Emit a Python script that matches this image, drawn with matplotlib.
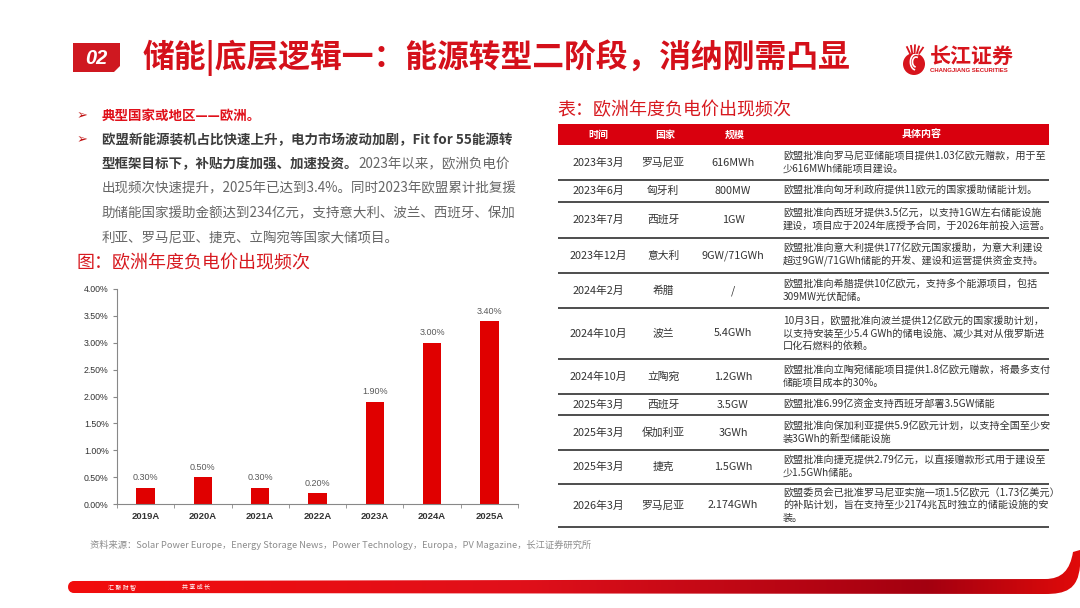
import matplotlib
matplotlib.use('Agg')
import matplotlib.pyplot as plt
import numpy as np
from matplotlib.patches import Rectangle, Polygon, PathPatch, Ellipse
from matplotlib.path import Path
from matplotlib.colors import LinearSegmentedColormap

plt.rcParams['font.family'] = ['Noto Sans CJK SC', 'DejaVu Sans']

# ---------------- data ----------------
years = ['2019A', '2020A', '2021A', '2022A', '2023A', '2024A', '2025A']
neg_price_freq = [0.30, 0.50, 0.30, 0.20, 1.90, 3.00, 3.40]
y_ticks = [0.0, 0.5, 1.0, 1.5, 2.0, 2.5, 3.0, 3.5, 4.0]

tbl_cols = ['时间', '国家', '规模', '具体内容']
tbl_time = ['2023年3月', '2023年6月', '2023年7月', '2023年12月', '2024年2月', '2024年10月',
            '2024年10月', '2025年3月', '2025年3月', '2025年3月', '2026年3月']
tbl_country = ['罗马尼亚', '匈牙利', '西班牙', '意大利', '希腊', '波兰', '立陶宛', '西班牙',
               '保加利亚', '捷克', '罗马尼亚']
tbl_scale = ['616MWh', '800MW', '1GW', '9GW/71GWh', '/', '5.4GWh', '1.2GWh', '3.5GW',
             '3GWh', '1.5GWh', '2.174GWh']
tbl_detail = [
    '欧盟批准向罗马尼亚储能项目提供1.03亿欧元赠款，用于至\n少616MWh储能项目建设。',
    '欧盟批准向匈牙利政府提供11欧元的国家援助储能计划。',
    '欧盟批准向西班牙提供3.5亿元，以支持1GW左右储能设施\n建设，项目应于2024年底授予合同，于2026年前投入运营。',
    '欧盟批准向意大利提供177亿欧元国家援助，为意大利建设\n超过9GW/71GWh储能的开发、建设和运营提供资金支持。',
    '欧盟批准向希腊提供10亿欧元，支持多个能源项目，包括\n309MW光伏配储。',
    '10月3日，欧盟批准向波兰提供12亿欧元的国家援助计划，\n以支持安装至少5.4 GWh的储电设施、减少其对从俄罗斯进\n口化石燃料的依赖。',
    '欧盟批准向立陶宛储能项目提供1.8亿欧元赠款，将最多支付\n储能项目成本的30%。',
    '欧盟批准6.99亿资金支持西班牙部署3.5GW储能',
    '欧盟批准向保加利亚提供5.9亿欧元计划，以支持全国至少安\n装3GWh的新型储能设施',
    '欧盟批准向捷克提供2.79亿元，以直接赠款形式用于建设至\n少1.5GWh储能。',
    '欧盟委员会已批准罗马尼亚实施一项1.5亿欧元（1.73亿美元）\n的补贴计划，旨在支持至少2174兆瓦时独立的储能设施的安\n装。',
]

title = '储能|底层逻辑一：能源转型二阶段，消纳刚需凸显'
bullet1 = '典型国家或地区——欧洲。'
para_bold = ['欧盟新能源装机占比快速上升，电力市场波动加剧，Fit for 55能源转',
             '型框架目标下，补贴力度加强、加速投资。']
para_norm = ['2023年以来，欧洲负电价',
             '出现频次快速提升，2025年已达到3.4%。同时2023年欧盟累计批复援',
             '助储能国家援助金额达到234亿元，支持意大利、波兰、西班牙、保加',
             '利亚、罗马尼亚、捷克、立陶宛等国家大储项目。']
fig_title = '图：欧洲年度负电价出现频次'
tbl_title = '表：欧洲年度负电价出现频次'
source = '资料来源：Solar Power Europe，Energy Storage News，Power Technology，Europa，PV Magazine，长江证券研究所'

# ---------------- layout ----------------
W, H = 1080, 608
fig = plt.figure(figsize=(10.8, 6.08), dpi=100)
bg = fig.add_axes([0, 0, 1, 1])
bg.set_xlim(0, W)
bg.set_ylim(H, 0)
bg.axis('off')


def pt(px):
    return px * 0.72


RED = '#d4101a'
DARK = '#3c3c3c'
GRAY = '#666666'

# header box "02"
bg.add_patch(Polygon([(73, 43), (120, 43), (120, 66), (114, 72), (73, 72)],
                     closed=True, color='#cf1820', lw=0))
bg.text(96, 58, '02', color='white', fontsize=pt(20), fontweight='bold', style='italic',
        family=['Liberation Sans', 'DejaVu Sans'], ha='center', va='center')
bg.text(143, 58, title, color=RED, fontsize=pt(31.8), fontweight='bold', ha='left', va='center')

# logo
bg.add_patch(Ellipse((914, 64), 22, 22, color='#d7141c', lw=0))
for r in [5, 8]:
    th = np.linspace(0.6 * np.pi, 1.6 * np.pi, 30)
    bg.plot(916 + r * np.cos(th) * 0.7, 62 + r * np.sin(th), color='white', lw=1.2)
for dx in [-7, -3, 1, 5, 9]:
    bg.plot([914 + dx * 0.6, 914 + dx], [53, 45 + abs(dx) * 0.3], color='#d7141c', lw=1.3)
bg.text(930, 56, '长江证券', color='#d7141c', fontsize=pt(21), fontweight='bold',
        ha='left', va='center')
bg.text(930, 70, 'CHANGJIANG SECURITIES', color='#d7141c', fontsize=4.3, fontweight='bold',
        family=['Liberation Sans', 'DejaVu Sans'], ha='left', va='center')

# bullets
FS = pt(13.5)
bg.text(77, 116, '➢', fontsize=pt(13), color='#c01010', family='DejaVu Sans', va='center')
bg.text(77, 140, '➢', fontsize=pt(13), color='#c01010', family='DejaVu Sans', va='center')
bg.text(102, 116, bullet1, color='#e0101a', fontsize=FS, fontweight='bold', va='center')
line_y = [140, 164, 188, 213, 238]
bg.text(102, line_y[0], para_bold[0], color=DARK, fontsize=FS, fontweight='bold', va='center')
t3 = bg.text(102, line_y[1], para_bold[1], color=DARK, fontsize=FS, fontweight='bold', va='center')
bg.annotate(para_norm[0], xy=(1, 0.5), xycoords=t3, color=GRAY, fontsize=FS,
            ha='left', va='center')
for yy, s in zip(line_y[2:], para_norm[1:]):
    bg.text(102, yy, s, color=GRAY, fontsize=FS, va='center')

bg.text(76, 263, fig_title, color='#d7191f', fontsize=pt(18), va='center')

# ---------------- bar chart ----------------
ax = fig.add_axes([117 / W, 1 - 504 / H, (518 - 117) / W, (504 - 289) / H])
x = np.arange(len(years))
ax.bar(x, neg_price_freq, width=0.32, color='#e00000', zorder=2)
ax.set_xlim(-0.5, len(years) - 0.5)
ax.set_ylim(0, 4.0)
ax.set_yticks(y_ticks)
ax.set_yticklabels([f'{v:.2f}%' for v in y_ticks], fontsize=6.3,
                   family=['Liberation Sans', 'DejaVu Sans'], color='#333333')
ax.set_xticks(x)
ax.set_xticklabels(years, fontsize=6.8, fontweight='bold',
                   family=['Liberation Sans', 'DejaVu Sans'], color='#333333')
ax.set_xticks(np.arange(-0.5, len(years), 1), minor=True)
ax.tick_params(axis='x', which='major', length=0, pad=6)
ax.tick_params(axis='x', which='minor', length=3, direction='out', color='#888888')
ax.tick_params(axis='y', length=3, direction='out', color='#888888', pad=3)
for s in ['top', 'right']:
    ax.spines[s].set_visible(False)
for s in ['left', 'bottom']:
    ax.spines[s].set_color('#888888')
    ax.spines[s].set_linewidth(0.8)
ax.patch.set_alpha(0)
for xi, v in zip(x, neg_price_freq):
    ax.text(xi, v + 0.1, f'{v:.2f}%', ha='center', va='bottom', fontsize=6.5,
            family=['Liberation Sans', 'DejaVu Sans'], color='#595959')

bg.text(90, 545, source, color='#8c8c8c', fontsize=6.7, va='center')

# ---------------- table ----------------
bg.text(557, 110, tbl_title, color='#d7191f', fontsize=pt(18), va='center')
TL, TR = 558, 1049
bg.add_patch(Rectangle((TL, 124), TR - TL, 21, color='#d9000e', lw=0))
col_cx = [598, 665, 735, 922]
for cx, c in zip(col_cx, tbl_cols):
    bg.text(cx, 134.5, c, color='white', fontsize=pt(10), fontweight='bold',
            ha='center', va='center')
bounds = [145, 180, 202, 238, 273, 308, 359, 394, 415, 450, 484, 527]
clip = Rectangle((TL, 120), TR - TL, 420, transform=bg.transData, visible=False)
bg.add_patch(clip)
for i in range(len(tbl_time)):
    yc = (bounds[i] + bounds[i + 1]) / 2
    bg.text(598, yc, tbl_time[i], color='#333333', fontsize=pt(10.8), ha='center', va='center')
    bg.text(663, yc, tbl_country[i], color='#333333', fontsize=pt(10.8), ha='center', va='center')
    bg.text(733, yc, tbl_scale[i], color='#333333', fontsize=pt(10.8), ha='center', va='center')
    t = bg.text(783, yc, tbl_detail[i], color='#333333', fontsize=pt(10.1), ha='left',
                va='center', linespacing=1.25)
    t.set_clip_path(clip)
for yb in bounds[1:]:
    bg.plot([TL, TR], [yb, yb], color='#4d4d4d', lw=1.4, solid_capstyle='butt')

# ---------------- footer ----------------
verts = [(74, 581), (1045, 579), (1062, 579), (1070, 570), (1073, 552), (1080, 550),
         (1080, 566), (1078, 590), (1065, 594), (1045, 594), (74, 593),
         (66, 593), (66, 581), (74, 581), (74, 581)]
codes = [Path.MOVETO, Path.LINETO, Path.CURVE4, Path.CURVE4, Path.CURVE4, Path.LINETO,
         Path.LINETO, Path.CURVE4, Path.CURVE4, Path.CURVE4, Path.LINETO,
         Path.CURVE4, Path.CURVE4, Path.CURVE4, Path.CLOSEPOLY]
fpatch = PathPatch(Path(verts, codes), facecolor='none', edgecolor='none',
                   transform=bg.transData)
bg.add_patch(fpatch)
cmap = LinearSegmentedColormap.from_list('foot', [(0, '#f20c0c'), (0.45, '#e0101a'),
                                                  (0.85, '#a30010'), (1.0, '#e00a0a')])
grad = np.linspace(0, 1, 512).reshape(1, -1)
im = bg.imshow(grad, cmap=cmap, extent=(66, 1080, 596, 548), aspect='auto', zorder=1)
im.set_clip_path(fpatch)
bg.set_xlim(0, W)
bg.set_ylim(H, 0)
bg.text(108, 587, '汇 聚 财 智', color='white', fontsize=4.3, va='center', zorder=3)
bg.text(182, 587, '共 享 成 长', color='white', fontsize=4.3, va='center', zorder=3)

fig.savefig('out.png', dpi=100)
